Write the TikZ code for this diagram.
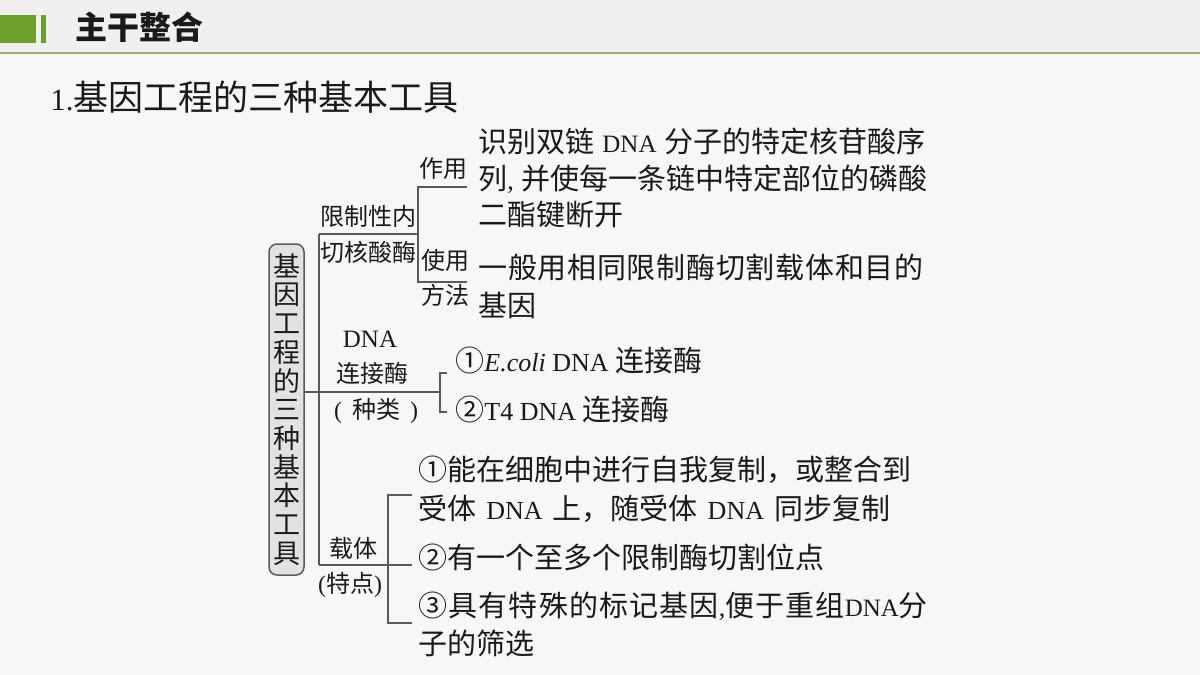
\documentclass[tikz,border=0pt]{standalone}
\usepackage{fontspec}
\setmainfont{Noto Sans CJK SC}
\newfontfamily\lat{Liberation Serif}
\newcommand\lt[2]{{\lat\fontsize{#1}{#1}\selectfont #2}}
\definecolor{bgc}{HTML}{F7F7F7}
\definecolor{hdrc}{HTML}{F0F0F0}
\definecolor{grn}{HTML}{6E9E2C}
\definecolor{grnline}{HTML}{94B865}
\definecolor{linec}{HTML}{5A5A5A}
\definecolor{boxc}{HTML}{E2E2E2}
\definecolor{txc}{HTML}{1A1A1A}
\tikzset{
  ln/.style={draw=linec, line width=0.75pt},
  tx/.style={inner sep=0pt, text height=0.88em, text depth=0.12em, text=txc},
  rt/.style={tx, anchor=west, font=\fontsize{14.5}{14.5}\selectfont},
  lb/.style={tx, font=\fontsize{12}{12}\selectfont},
}
\begin{document}
\begin{tikzpicture}[x=0.5pt,y=-0.5pt]
\useasboundingbox (0,0) rectangle (1200,675);
\fill[bgc] (0,0) rectangle (1200,675);
\fill[hdrc] (0,0) rectangle (1200,52);
\draw[grnline, line width=0.75pt] (0,53) -- (1200,53);
\fill[grn] (0,15) rectangle (36,43);
\fill[grn] (41,15) rectangle (46,43);
\node[tx, anchor=west, font=\bfseries\fontsize{16}{16}\selectfont] (hd) at (75,32) {主干整合};
\node[tx, anchor=west, font=\fontsize{17.5}{17.5}\selectfont] (title) at (50,103) {\lt{15.5}{1.}基因工程的三种基本工具};

% vertical box
\node[draw=linec, line width=0.75pt, fill=boxc, rounded corners=4pt, minimum width=17.5pt, minimum height=165.5pt, inner sep=0pt, align=center, text=txc, font=\fontsize{13.5}{14.35}\selectfont] (box) at (286.5,409.5)
 {基\\因\\工\\程\\的\\三\\种\\基\\本\\工\\具};

% coordinates
\coordinate (t0) at (319,234);
\coordinate (t1) at (319,565);
\coordinate (a0) at (418,234);
\coordinate (a1) at (418,187);
\coordinate (a1e) at (467,187);
\coordinate (a2) at (418,282);
\coordinate (a2e) at (467,282);
\coordinate (mb) at (440,392);
\coordinate (b1) at (440,373);
\coordinate (b1e) at (447,373);
\coordinate (b2) at (440,412);
\coordinate (b2e) at (447,412);
\coordinate (c0) at (412,565);
\coordinate (c1) at (388,495);
\coordinate (c1e) at (412,495);
\coordinate (c2) at (388,623);
\coordinate (c2e) at (412,623);

% connectors
\draw[ln] (t0) -- (t1);
\draw[ln] (t0) -- (a0);
\draw[ln] (a1e) -- (a1) -- (a2) -- (a2e);
\draw[ln] (box.east |- mb) -- (mb);
\draw[ln] (b1e) -- (b1) -- (b2) -- (b2e);
\draw[ln] (t1) -- (c0);
\draw[ln] (c1e) -- (c1) -- (c2) -- (c2e);

% left labels
\node[lb] (l1) at (368,218) {限制性内};
\node[lb] (l2) at (368,254) {切核酸酶};
\node[lb] (l3) at (443,170) {作用};
\node[lb] (l4) at (445,262) {使用};
\node[lb] (l5) at (445,297) {方法};
\node[tx, font=\lat\fontsize{12.5}{12.5}\selectfont] (l6) at (370,340) {DNA};
\node[lb] (l7) at (372,375) {连接酶};
\node[lb] (l8) at (376,411) {\lt{12}{(}\hspace{5pt}种类\hspace{5pt}\lt{12}{)}};
\node[lb] (l9) at (353,550) {载体};
\node[lb] (l10) at (350,585) {\lt{12}{(}特点\lt{12}{)}};

% right texts
\node[rt] (r1) at (478,145) {识别双链\hspace{4pt}\lt{12.5}{DNA}\hspace{4pt}分子的特定核苷酸序};
\node[rt] (r2) at (478,182) {列\lt{13}{,}\hspace{4pt}并使每一条链中特定部位的磷酸};
\node[rt] (r3) at (478,218) {二酯键断开};
\node[rt, font=\fontsize{14.5}{14.5}\selectfont\addfontfeature{LetterSpace=2.5}] (r4) at (478,271) {一般用相同限制酶切割载体和目的};
\node[rt] (r5) at (478,309) {基因};

\node[rt] (m1) at (455,364) {①\lt{13}{\textit{E.coli} DNA }连接酶};
\node[rt] (m2) at (455,413) {②\lt{13}{T4 DNA }连接酶};

\node[rt] (v1) at (418,473) {①能在细胞中进行自我复制，或整合到};
\node[rt] (v2) at (418,512) {受体\hspace{5pt}\lt{13}{DNA}\hspace{5pt}上，随受体\hspace{5pt}\lt{13}{DNA}\hspace{5pt}同步复制};
\node[rt] (v3) at (418,561) {②有一个至多个限制酶切割位点};
\node[rt, font=\fontsize{14.5}{14.5}\selectfont\addfontfeature{LetterSpace=4}] (v4) at (418,609) {③具有特殊的标记基因\lt{13}{,}便于重组\lt{12.5}{DNA}分};
\node[rt] (v5) at (418,647) {子的筛选};
\end{tikzpicture}
\end{document}
